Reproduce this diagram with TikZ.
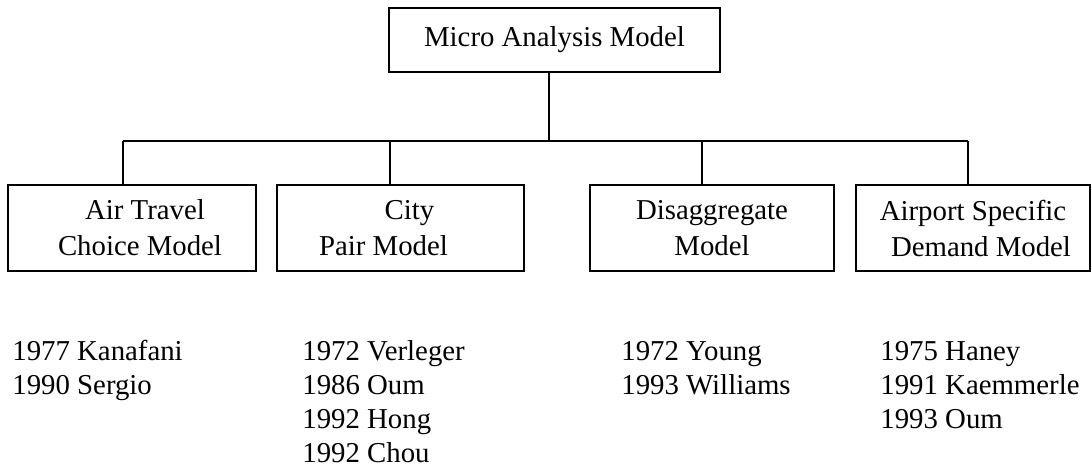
\documentclass[tikz,border=0pt]{standalone}
\usepackage{fontspec}
\setmainfont{Liberation Serif}
\begin{document}
\begin{tikzpicture}[x=0.5pt,y=-0.5pt,
  box/.style={draw, line width=1pt, inner sep=0pt, align=center,
    font=\fontsize{14.4pt}{18pt}\selectfont},
  lst/.style={inner sep=0pt, anchor=base west,
    font=\fontsize{14.4pt}{17pt}\selectfont},
  link/.style={line width=1pt}]
\useasboundingbox (0,0) rectangle (1092,468);
% top box
\node[box, minimum width=165.5pt, minimum height=32pt] (top) at (554.5,40) {Micro Analysis Model};
% model boxes
\node[box, minimum width=124pt, minimum height=43pt] (b1) at (132,228)
  {\hspace*{13pt}Air Travel\\\hspace*{8pt}Choice Model};
\node[box, minimum width=123.5pt, minimum height=43pt] (b2) at (400.5,228)
  {\hspace*{9pt}City\\Pair Model\hspace*{17pt}};
\node[box, minimum width=122pt, minimum height=43pt] (b3) at (712,228)
  {Disaggregate\\Model};
\node[box, minimum width=117pt, minimum height=43pt] (b4) at (973,228)
  {Airport Specific\\\hspace*{8pt}Demand Model};
% connectors
\coordinate (j) at (549,141);
\coordinate (d1) at (123,141);
\coordinate (d2) at (390,141);
\coordinate (d3) at (702,141);
\coordinate (d4) at (968,141);
\draw[link] (top.south -| j) -- (j);
\draw[link] (d1) -- (d4);
\draw[link] (d1) -- (d1 |- b1.north);
\draw[link] (d2) -- (d2 |- b2.north);
\draw[link] (d3) -- (d3 |- b3.north);
\draw[link] (d4) -- (d4 |- b4.north);
% reference lists
\node[lst] (l1) at (12,360) {\begin{tabular}[t]{@{}l@{}}1977 Kanafani\\1990 Sergio\end{tabular}};
\node[lst] (l2) at (302,360) {\begin{tabular}[t]{@{}l@{}}1972 Verleger\\1986 Oum\\1992 Hong\\1992 Chou\end{tabular}};
\node[lst] (l3) at (621,360) {\begin{tabular}[t]{@{}l@{}}1972 Young\\1993 Williams\end{tabular}};
\node[lst] (l4) at (880,360) {\begin{tabular}[t]{@{}l@{}}1975 Haney\\1991 Kaemmerle\\1993 Oum\end{tabular}};
\end{tikzpicture}
\end{document}
